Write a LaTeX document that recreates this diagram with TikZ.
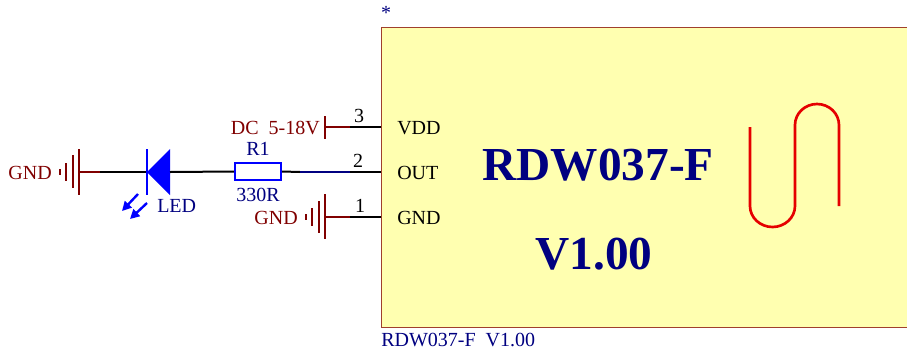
\documentclass[tikz,border=0pt]{standalone}
\usepackage{fontspec}
\setmainfont{Liberation Serif}
\definecolor{gndred}{HTML}{800000}
\definecolor{navy}{HTML}{000080}
\definecolor{ledblue}{HTML}{0000FF}
\definecolor{chipfill}{HTML}{FFFFB0}
\usetikzlibrary{arrows.meta}
\begin{document}
\begin{tikzpicture}[
    x=0.75pt, y=-0.75pt,
    chip/.style={rectangle, draw=gndred!75!chipfill, line width=0.9pt, fill=chipfill, anchor=north west, inner sep=0pt, minimum width=395.25pt, minimum height=225pt},
    label/.style={inner sep=0pt, font=\fontsize{15}{17}\selectfont},
    netlabel/.style={label, text=gndred},
    partlabel/.style={label, text=navy},
    pinlabel/.style={label, text=black},
    title/.style={inner sep=0pt, text=navy, font=\fontsize{35.5}{38}\selectfont\bfseries},
    wire/.style={line width=1.5pt, black},
    netwire/.style={line width=1.5pt, gndred},
    bluewire/.style={line width=1.5pt, navy},
    gndbar/.style={line width=1.8pt, gndred},
    resistor/.style={rectangle, draw=ledblue, line width=1.7pt, fill=white, inner sep=0pt, minimum width=34.5pt, minimum height=12.5pt},
    photon/.style={-{Triangle[length=7pt, width=7pt]}, line width=1.8pt, ledblue}
]
\useasboundingbox (0,0) rectangle (907,354);

% Boitier
\node[chip] (rdw) at (381,27) {};
\node[partlabel] (star) at (386,13) {*};
\node[partlabel, anchor=west] (rdwname) at (381,340) {RDW037-F\ \ V1.00};
\node[title] (rdwtitle) at (598,165) {RDW037-F};
\node[title] (rdwver) at (594,254) {V1.00};

% Broches
\coordinate (pinthree) at (381,127);
\coordinate (pintwo) at (381,172);
\coordinate (pinone) at (381,217);
\coordinate (kneethree) at (350,127);
\coordinate (kneetwo) at (350,172);
\coordinate (kneeone) at (350,217);
\node[pinlabel, anchor=west] (vdd) at (397,128) {VDD};
\node[pinlabel, anchor=west] (out) at (397,173) {OUT};
\node[pinlabel, anchor=west] (gndpin) at (397,218) {GND};
\node[pinlabel] (numthree) at (359,116) {3};
\node[pinlabel] (numtwo) at (358,161) {2};
\node[pinlabel] (numone) at (360,206) {1};

% Alimentation
\coordinate (vccbar) at (325,127);
\draw[gndbar] (325,116) -- (325,139);
\draw[netwire] (vccbar) -- (kneethree);
\draw[wire] (kneethree) -- (pinthree);
\node[netlabel, anchor=east] (vcc) at (320,128) {DC\ \ 5-18V};

% Masse broche 1
\coordinate (gndb) at (325,217);
\draw[gndbar] (325,194) -- (325,239);
\draw[gndbar] (319,201) -- (319,233);
\draw[gndbar] (312,208) -- (312,226);
\draw[gndbar] (306,214) -- (306,220);
\draw[netwire] (gndb) -- (kneeone);
\draw[wire] (kneeone) -- (pinone);
\node[netlabel, anchor=east] (gndbtext) at (298,218) {GND};

% Masse gauche
\coordinate (gnda) at (79,172);
\coordinate (kneea) at (100,172);
\draw[gndbar] (79,149) -- (79,195);
\draw[gndbar] (73,155) -- (73,188);
\draw[gndbar] (66,163) -- (66,181);
\draw[gndbar] (60,169) -- (60,175);
\draw[netwire] (gnda) -- (kneea);
\node[netlabel, anchor=east] (gndatext) at (52,173) {GND};

% LED
\coordinate (ledk) at (147,172);
\coordinate (leda) at (170,172);
\draw[wire] (kneea) -- (ledk);
\fill[ledblue] (ledk) -- (170,149) -- (170,195) -- cycle;
\draw[line width=1.9pt, ledblue] (147,149) -- (147,195);
\coordinate (ledaa) at (138,194);
\coordinate (ledab) at (122,211);
\coordinate (ledba) at (147,203);
\coordinate (ledbb) at (130,219);
\draw[photon] (ledaa) -- (ledab);
\draw[photon] (ledba) -- (ledbb);
\node[partlabel, anchor=west] (ledtext) at (157,206) {LED};

% Resistance
\node[resistor] (rone) at (258,171.5) {};
\node[partlabel] (ronename) at (258,149) {R1};
\node[partlabel] (ronevalue) at (258,195) {330R};
\coordinate (kneer) at (300,172);
\draw[wire] (leda) -- (rone.west);
\draw[wire] (rone.east) -- (kneer);
\draw[bluewire] (kneer) -- (kneetwo);
\draw[wire] (kneetwo) -- (pintwo);

% Trace rouge
\coordinate (tracestart) at (750,127);
\draw[line width=2pt, red!90!black] (tracestart) -- (750,206) arc[start angle=180, end angle=360, x radius=22.5, y radius=-21] -- (795,125) arc[start angle=180, end angle=0, x radius=22, y radius=-21] -- (839,206);
\end{tikzpicture}
\end{document}
